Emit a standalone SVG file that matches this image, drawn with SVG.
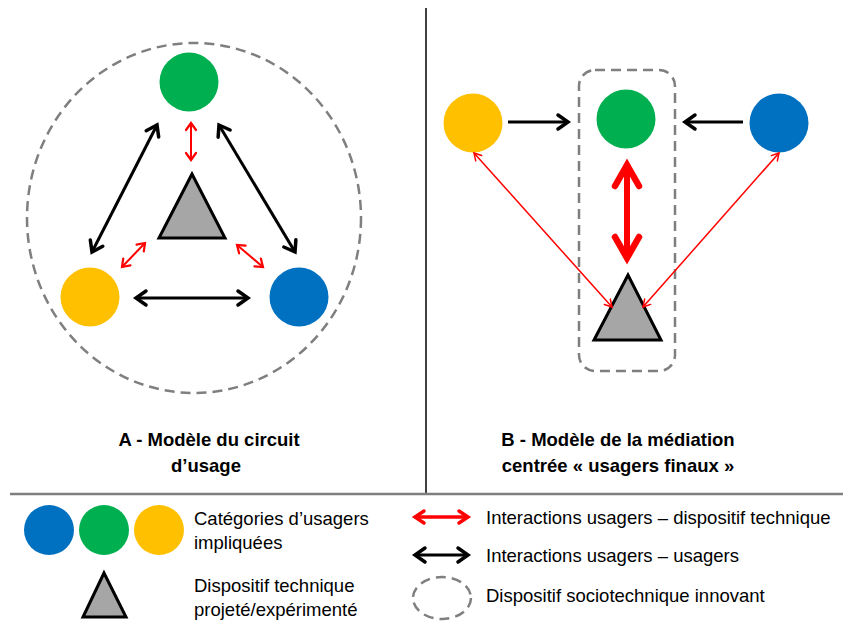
<svg xmlns="http://www.w3.org/2000/svg" width="843" height="624" viewBox="0 0 843 624">
<style>
.g{fill:#00b050}.y{fill:#ffc000}.b{fill:#0070c0}
.tri{fill:#a6a6a6;stroke:#000;stroke-width:3;stroke-linejoin:miter}
.dash{fill:none;stroke:#7f7f7f;stroke-width:2.5;stroke-dasharray:10 6}
.ak{stroke:#000;fill:none;stroke-width:3}
.ar{stroke:#ff0000;fill:none}
.t{font-family:"Liberation Sans",Arial,sans-serif;font-size:18.5px;fill:#000}
.tb{font-family:"Liberation Sans",Arial,sans-serif;font-size:18.5px;font-weight:bold;fill:#000;text-anchor:middle}
</style>
<defs>
<marker id="mk" markerUnits="userSpaceOnUse" orient="auto-start-reverse" refX="0" refY="0" markerWidth="30" markerHeight="30" overflow="visible">
<path d="M-10,-7 L0,0 L-10,7" fill="none" stroke="#000" stroke-width="3.5" stroke-linecap="round" stroke-linejoin="miter"/>
</marker>
<marker id="mr" markerUnits="userSpaceOnUse" orient="auto-start-reverse" refX="0" refY="0" markerWidth="30" markerHeight="30" overflow="visible">
<path d="M-7,-5 L0,0 L-7,5" fill="none" stroke="#ff0000" stroke-width="2.2" stroke-linecap="round"/>
</marker>
<marker id="mrt" markerUnits="userSpaceOnUse" orient="auto-start-reverse" refX="0" refY="0" markerWidth="30" markerHeight="30" overflow="visible">
<path d="M-7,-4 L0,0 L-7,4" fill="none" stroke="#ff0000" stroke-width="1.5" stroke-linecap="round"/>
</marker>
<marker id="mrb" markerUnits="userSpaceOnUse" orient="auto-start-reverse" refX="0" refY="0" markerWidth="60" markerHeight="60" overflow="visible">
<path d="M-21,-12 L0,0 L-21,12" fill="none" stroke="#ff0000" stroke-width="6.5" stroke-linecap="round" stroke-linejoin="miter"/>
</marker>
<marker id="mrl" markerUnits="userSpaceOnUse" orient="auto-start-reverse" refX="0" refY="0" markerWidth="30" markerHeight="30" overflow="visible">
<path d="M-9,-6 L0,0 L-9,6" fill="none" stroke="#ff0000" stroke-width="3.5" stroke-linecap="round"/>
</marker>
</defs>

<!-- frame lines -->
<line x1="426" y1="8" x2="426" y2="493" stroke="#000" stroke-width="1.5"/>
<line x1="10" y1="494" x2="843" y2="494" stroke="#7f7f7f" stroke-width="2.5"/>

<!-- Panel A -->
<g id="A-boundary"><ellipse class="dash" cx="194" cy="218" rx="167" ry="175"/></g>
<g id="A-green"><circle class="g" cx="189" cy="82" r="29.5"/></g>
<g id="A-yellow"><circle class="y" cx="90" cy="297" r="29.5"/></g>
<g id="A-blue"><circle class="b" cx="299" cy="297" r="29.5"/></g>
<g id="A-device"><polygon class="tri" points="192,174 159,238 225,238"/></g>
<g id="A-connectors">
<line class="ak" x1="157" y1="125" x2="92" y2="252" marker-start="url(#mk)" marker-end="url(#mk)"/>
<line class="ak" x1="219" y1="125" x2="295" y2="252" marker-start="url(#mk)" marker-end="url(#mk)"/>
<line class="ak" x1="136" y1="298" x2="248" y2="298" marker-start="url(#mk)" marker-end="url(#mk)"/>
<line class="ar" stroke-width="2" x1="191" y1="123" x2="191" y2="160" marker-start="url(#mr)" marker-end="url(#mr)"/>
<line class="ar" stroke-width="2" x1="145" y1="243" x2="122" y2="267" marker-start="url(#mr)" marker-end="url(#mr)"/>
<line class="ar" stroke-width="2" x1="237" y1="245" x2="263" y2="267" marker-start="url(#mr)" marker-end="url(#mr)"/>
</g>
<g id="A-title">
<text class="tb" x="209" y="446">A - Modèle du circuit</text>
<text class="tb" x="206" y="472">d’usage</text>
</g>

<!-- Panel B -->
<g id="B-boundary"><rect class="dash" x="579" y="70" width="96" height="301" rx="16" ry="16"/></g>
<g id="B-yellow"><circle class="y" cx="473" cy="123" r="29.5"/></g>
<g id="B-green"><circle class="g" cx="626" cy="119" r="29.5"/></g>
<g id="B-blue"><circle class="b" cx="779" cy="123" r="29.5"/></g>
<g id="B-device"><polygon class="tri" points="628,275 594,340 661,340"/></g>
<g id="B-connectors">
<line class="ak" x1="508" y1="122" x2="568" y2="122" marker-end="url(#mk)"/>
<line class="ak" x1="743" y1="122" x2="685" y2="122" marker-end="url(#mk)"/>
<line class="ar" stroke-width="6" x1="627" y1="165" x2="627" y2="258" marker-start="url(#mrb)" marker-end="url(#mrb)"/>
<line class="ar" stroke-width="1.5" x1="474" y1="153" x2="612" y2="307" marker-start="url(#mrt)" marker-end="url(#mrt)"/>
<line class="ar" stroke-width="1.5" x1="779" y1="153" x2="643" y2="307" marker-start="url(#mrt)" marker-end="url(#mrt)"/>
</g>
<g id="B-title">
<text class="tb" x="618" y="446">B - Modèle de la médiation</text>
<text class="tb" x="618" y="472">centrée « usagers finaux »</text>
</g>

<!-- Legend -->
<g id="legend-users">
<circle class="b" cx="49" cy="530" r="25"/>
<circle class="g" cx="104" cy="530" r="25"/>
<circle class="y" cx="159" cy="530" r="25"/>
<text class="t" x="194" y="525">Catégories d’usagers</text>
<text class="t" x="194" y="549">impliquées</text>
</g>
<g id="legend-device">
<polygon class="tri" points="104,573 83,617 126,617"/>
<text class="t" x="194" y="592">Dispositif technique</text>
<text class="t" x="194" y="616">projeté/expérimenté</text>
</g>
<g id="legend-red">
<line class="ar" stroke-width="3.5" x1="415" y1="517" x2="468" y2="517" marker-start="url(#mrl)" marker-end="url(#mrl)"/>
<text class="t" x="486" y="524">Interactions usagers – dispositif technique</text>
</g>
<g id="legend-black">
<line class="ak" stroke-width="3.5" x1="415" y1="555" x2="468" y2="555" marker-start="url(#mk)" marker-end="url(#mk)"/>
<text class="t" x="486" y="562">Interactions usagers – usagers</text>
</g>
<g id="legend-dashed">
<ellipse class="dash" cx="442" cy="598" rx="29" ry="21" stroke-dasharray="7 5"/>
<text class="t" x="486" y="602">Dispositif sociotechnique innovant</text>
</g>
</svg>
